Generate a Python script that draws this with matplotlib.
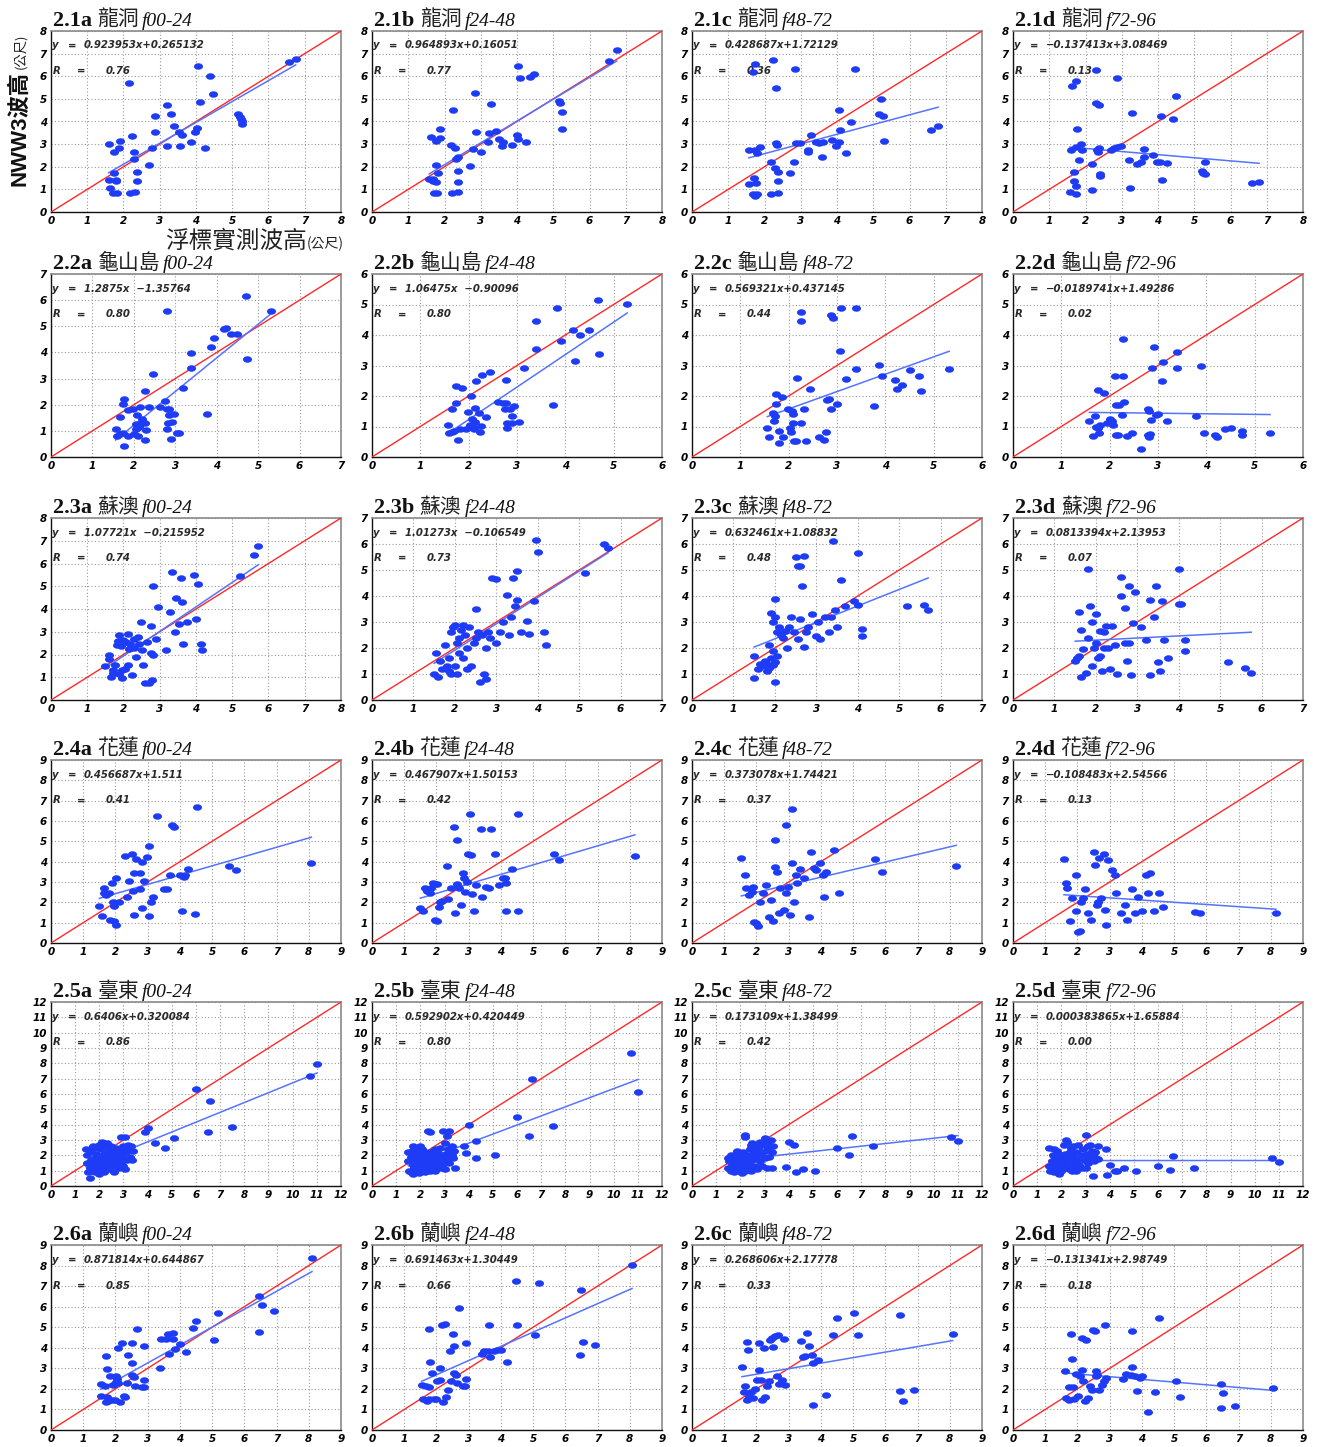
import numpy as np
import matplotlib
matplotlib.use("Agg")
import matplotlib.pyplot as plt
from matplotlib.path import Path

# ---------------- data ----------------
codes = ["a", "b", "c", "d"]
stations = ["龍洞", "龜山島", "蘇澳", "花蓮", "臺東", "蘭嶼"]
leads = ["f00-24", "f24-48", "f48-72", "f72-96"]
axis_max = [[8, 8, 8, 8], [7, 6, 6, 6], [8, 7, 7, 7], [9, 9, 9, 9], [12, 12, 12, 12], [9, 9, 9, 9]]

slopes = [["0.923953", "0.964893", "0.428687", "-0.137413"],
          ["1.2875", "1.06475", "0.569321", "-0.0189741"],
          ["1.07721", "1.01273", "0.632461", "0.0813394"],
          ["0.456687", "0.467907", "0.373078", "-0.108483"],
          ["0.6406", "0.592902", "0.173109", "0.000383865"],
          ["0.871814", "0.691463", "0.268606", "-0.131341"]]
intercepts = [["0.265132", "0.16051", "1.72129", "3.08469"],
              ["-1.35764", "-0.90096", "0.437145", "1.49286"],
              ["-0.215952", "-0.106549", "1.08832", "2.13953"],
              ["1.511", "1.50153", "1.74421", "2.54566"],
              ["0.320084", "0.420449", "1.38499", "1.65884"],
              ["0.644867", "1.30449", "2.17778", "2.98749"]]
r_values = [["0.76", "0.77", "0.36", "0.13"],
            ["0.80", "0.80", "0.44", "0.02"],
            ["0.74", "0.73", "0.48", "0.07"],
            ["0.41", "0.42", "0.37", "0.13"],
            ["0.86", "0.80", "0.42", "0.00"],
            ["0.85", "0.66", "0.33", "0.18"]]

p1a = [(1.6,3.0),(1.73,2.65),(2.15,5.72),(1.9,3.15),(1.87,2.83),(2.24,3.38),(2.3,2.67),(2.28,2.35),(2.37,1.76),
       (2.37,1.35),(2.17,0.84),(2.33,0.87),(1.73,1.72),(1.59,1.42),(1.78,1.35),(1.64,1.06),(1.71,0.84),(1.83,0.84),
       (1.78,1.42),(2.7,2.06),(2.79,2.82),(2.86,4.26),(2.86,3.55),(3.21,4.73),(3.3,4.32),(3.19,2.9),(3.39,3.78),
       (3.53,3.55),(3.62,3.4),(3.57,2.9),(3.87,3.11),(3.97,3.55),(4.03,3.7),(4.06,6.45),(4.1,4.85),(4.24,2.82),
       (4.39,6.02),(4.48,5.21),(5.16,4.33),(5.21,4.21),(5.24,4.11),(5.28,3.89),(5.26,4.0),(6.57,6.61),(6.75,6.75)]
p1b = [(1.62,3.33),(1.76,3.14),(1.88,3.65),(1.88,3.26),(1.76,2.07),(1.81,1.71),(1.58,1.46),(1.67,1.36),(1.76,1.34),
       (1.67,1.46),(1.7,0.83),(1.79,0.85),(2.19,2.95),(2.24,4.5),(2.29,2.85),(2.32,2.36),(2.36,2.44),(2.38,1.8),
       (2.38,1.34),(2.22,0.85),(2.36,0.88),(2.7,2.04),(2.79,2.77),(2.84,5.26),(2.88,3.53),(3.0,2.66),(3.22,3.5),
       (3.19,3.1),(3.27,4.77),(3.43,3.58),(3.51,3.21),(3.58,2.92),(3.61,3.1),(3.85,2.95),(3.99,3.39),(4.03,3.24),
       (4.03,6.45),(4.08,5.91),(4.25,3.1),(4.37,5.95),(4.46,6.1),(5.15,4.92),(5.18,4.82),(5.23,4.42),(5.25,3.65),
       (6.54,6.67),(6.75,7.18)]
p1c = [(1.58,2.73),(1.74,2.76),(1.71,1.49),(1.57,1.23),(1.76,1.27),(1.69,0.8),(1.78,0.8),(1.74,0.69),(1.67,6.17),
       (1.74,6.54),(1.8,2.59),(1.88,2.88),(2.17,2.19),(2.18,0.8),(2.24,6.71),(2.29,1.96),(2.31,5.47),(2.31,3.06),
       (2.34,2.95),(2.38,1.75),(2.36,1.37),(2.36,0.83),(2.71,1.71),(2.8,2.19),(2.85,6.32),(2.87,3.07),(2.98,3.07),
       (3.2,2.76),(3.21,2.66),(3.29,3.39),(3.42,3.1),(3.49,3.03),(3.6,3.1),(3.58,2.44),(3.86,3.17),(3.97,2.91),
       (4.05,3.1),(4.06,4.49),(4.09,3.64),(4.25,2.6),(4.39,3.98),(4.49,6.32),(5.2,5.0),(5.15,4.34),(5.27,4.23),
       (5.29,3.13),(6.59,3.61),(6.79,3.79)]
p1d = [(1.59,2.73),(1.73,2.88),(1.64,5.58),(1.75,5.8),(1.77,3.65),(1.88,3.0),(1.89,2.73),(1.82,2.3),(1.68,1.78),
       (1.68,1.35),(1.75,1.13),(1.57,0.88),(1.74,0.8),(2.28,6.29),(2.17,0.98),(2.19,2.12),(2.3,4.81),(2.37,4.74),
       (2.31,2.76),(2.35,2.66),(2.37,2.81),(2.4,1.67),(2.4,1.59),(2.69,2.73),(2.79,2.84),(2.86,5.92),(2.88,2.88),
       (2.99,2.92),(3.2,2.32),(3.22,1.08),(3.29,4.37),(3.43,2.12),(3.52,2.22),(3.61,2.78),(3.61,2.41),(3.87,2.51),
       (3.98,2.19),(4.05,2.19),(4.07,4.24),(4.1,1.42),(4.26,2.18),(4.4,4.09),(4.49,5.12),(5.2,1.83),(5.25,1.74),
       (5.29,1.67),(5.29,2.19),(6.58,1.27),(6.79,1.32)]

p2a = [(1.56,1.06),(1.6,0.79),(1.66,0.89),(1.66,1.53),(1.74,0.93),(1.74,2.01),(1.76,2.2),(1.77,0.42),(1.86,0.8),
       (1.86,1.78),(1.98,1.84),(2.0,0.89),(2.04,1.27),(2.06,1.08),(2.08,1.59),(2.1,0.8),(2.12,1.15),(2.15,1.93),
       (2.16,1.27),(2.19,1.46),(2.27,1.31),(2.28,2.54),(2.3,1.02),(2.26,0.64),(2.36,1.91),(2.46,3.16),(2.63,1.93),
       (2.76,2.16),(2.81,5.57),(2.81,1.82),(2.81,1.06),(2.82,1.3),(2.85,1.84),(2.86,1.59),(2.9,0.67),(2.93,1.34),
       (2.97,1.65),(3.05,0.9),(3.1,0.9),(3.19,2.63),(3.39,3.98),(3.39,3.41),(3.77,1.65),(3.87,4.2),(3.94,4.55),
       (4.18,4.89),(4.23,4.92),(4.34,4.72),(4.48,4.71),(4.7,6.17),(4.73,3.75),(5.31,5.6)]
p2b = [(1.57,1.04),(1.6,0.78),(1.66,0.82),(1.7,0.86),(1.66,1.56),(1.73,2.34),(1.74,1.76),(1.77,0.56),(1.83,0.91),
       (1.86,2.25),(1.94,0.91),(1.99,1.48),(2.03,1.05),(2.05,1.99),(2.06,1.24),(2.09,0.97),(2.12,0.91),(2.14,1.16),
       (2.14,1.6),(2.16,2.48),(2.22,1.43),(2.24,0.82),(2.26,1.02),(2.28,2.69),(2.35,1.3),(2.44,2.8),(2.61,1.79),
       (2.71,1.76),(2.76,1.57),(2.77,2.53),(2.77,1.76),(2.8,1.1),(2.8,0.95),(2.86,1.57),(2.89,1.33),(2.9,1.13),
       (2.93,1.68),(3.05,1.16),(3.15,2.92),(3.39,4.45),(3.39,3.53),(3.74,1.7),(3.83,4.89),(3.9,3.79),(4.15,4.15),
       (4.19,3.16),(4.31,3.99),(4.48,4.15),(4.67,5.14),(4.7,3.38),(5.28,5.03)]
p2c = [(1.56,0.95),(1.6,0.67),(1.67,1.44),(1.69,1.19),(1.72,1.33),(1.73,1.74),(1.73,2.07),(1.79,0.86),(1.79,0.47),
       (1.86,1.98),(1.89,0.64),(1.98,1.58),(2.02,0.95),(2.05,0.82),(2.06,1.52),(2.09,1.41),(2.09,1.13),(2.11,0.53),
       (2.15,0.51),(2.18,2.58),(2.26,1.1),(2.26,4.74),(2.26,4.45),(2.31,1.58),(2.35,0.51),(2.45,2.23),(2.63,0.67),
       (2.74,0.56),(2.78,0.82),(2.8,1.87),(2.84,1.9),(2.87,1.59),(2.87,4.65),(2.91,4.56),(3.0,1.74),(3.06,3.46),
       (3.09,4.9),(3.19,2.56),(3.39,4.9),(3.39,2.87),(3.76,1.66),(3.87,3.02),(3.94,2.67),(4.2,2.51),(4.24,2.23),
       (4.34,2.36),(4.5,2.86),(4.69,2.67),(4.73,2.18),(5.32,2.89)]
p2d = [(1.58,1.17),(1.65,0.7),(1.69,1.35),(1.71,1.0),(1.75,2.2),(1.75,0.95),(1.78,0.79),(1.81,1.06),(1.88,2.11),
       (1.94,1.11),(2.0,1.24),(2.04,1.17),(2.06,1.06),(2.1,2.64),(2.13,0.73),(2.13,1.71),(2.17,0.73),(2.19,1.71),
       (2.26,1.37),(2.27,3.86),(2.27,2.64),(2.3,1.79),(2.36,0.7),(2.47,0.79),(2.65,0.27),(2.79,1.57),(2.79,0.71),
       (2.82,0.65),(2.82,1.52),(2.84,0.75),(2.86,1.22),(2.88,2.91),(2.92,3.62),(2.95,1.37),(3.01,1.41),(3.08,2.5),
       (3.1,3.13),(3.18,1.17),(3.4,3.44),(3.4,2.93),(3.79,1.33),(3.88,3.0),(3.96,0.79),(4.18,0.73),(4.22,0.65),
       (4.38,0.92),(4.51,0.95),(4.73,0.86),(4.74,0.73),(5.32,0.79)]

p3a = [(1.48,1.5),(1.6,1.82),(1.6,1.96),(1.65,1.02),(1.72,1.31),(1.76,1.53),(1.81,2.43),(1.88,2.84),(1.88,1.16),
       (1.93,2.37),(1.95,0.95),(2.0,2.62),(2.05,1.38),(2.07,2.55),(2.12,1.53),(2.12,2.91),(2.16,2.26),(2.19,2.47),
       (2.24,1.09),(2.28,2.3),(2.35,1.89),(2.4,2.76),(2.42,2.47),(2.47,3.42),(2.52,2.18),(2.54,1.53),(2.59,0.76),
       (2.66,2.55),(2.71,0.73),(2.75,3.27),(2.75,2.07),(2.78,0.9),(2.82,5.02),(2.82,1.96),(2.89,2.69),(2.96,4.07),
       (3.18,2.18),(3.29,3.85),(3.34,5.62),(3.41,2.98),(3.46,4.48),(3.53,3.35),(3.58,5.35),(3.62,4.29),(3.65,2.47),
       (3.76,3.42),(3.95,5.48),(4.0,3.56),(4.05,5.09),(4.14,2.47),(4.16,2.18),(5.22,5.45),(5.6,6.36),(5.72,6.79),
       (1.7,1.2),(1.85,2.6),(2.3,2.7),(1.95,1.3)]
p3b = [(1.5,1.0),(1.55,1.8),(1.6,0.9),(1.65,1.5),(1.7,1.2),(1.75,2.1),(1.8,1.3),(1.85,1.1),(1.9,2.6),(1.9,1.0),
       (1.95,2.8),(2.0,2.9),(2.0,1.3),(2.05,2.2),(2.05,1.0),(2.1,2.4),(2.1,1.8),(2.15,2.7),(2.2,2.9),(2.2,1.6),
       (2.25,2.5),(2.3,2.0),(2.35,2.8),(2.4,1.3),(2.45,2.2),(2.5,3.5),(2.5,2.4),(2.55,2.6),(2.6,0.7),(2.65,2.5),
       (2.7,1.0),(2.75,0.8),(2.75,2.0),(2.8,2.6),(2.85,2.4),(2.9,4.7),(3.0,4.65),(3.0,2.2),(3.1,2.6),(3.15,3.0),
       (3.25,4.05),(3.3,2.5),(3.35,3.2),(3.4,4.7),(3.45,3.6),(3.5,4.95),(3.5,3.85),(3.6,2.6),(3.75,3.05),(3.8,2.55),
       (3.9,3.8),(3.95,6.15),(4.0,5.7),(4.15,2.6),(4.2,2.1),(5.15,4.9),(5.6,6.0),(5.7,5.85),(1.85,1.6),(2.3,1.2)]
p3c = [(1.5,1.7),(1.5,0.85),(1.6,1.2),(1.65,1.4),(1.7,1.3),(1.75,1.5),(1.8,1.1),(1.8,1.4),(1.85,1.25),(1.9,1.6),
       (1.95,1.35),(2.0,0.7),(2.0,1.45),(2.05,1.7),(1.85,2.1),(1.9,3.35),(1.95,3.0),(2.0,3.2),(2.0,3.9),(2.05,2.6),
       (2.1,2.8),(2.15,2.5),(2.2,2.4),(2.25,2.65),(2.3,2.0),(2.35,2.8),(2.4,3.2),(2.45,2.6),(2.5,5.5),(2.55,5.15),
       (2.6,5.15),(2.65,4.4),(2.7,5.55),(2.55,2.35),(2.6,3.1),(2.7,2.05),(2.75,2.6),(2.8,2.8),(2.9,3.3),(3.0,2.45),
       (3.05,3.0),(3.1,2.35),(3.2,3.2),(3.3,2.6),(3.35,3.2),(3.4,6.1),(3.45,3.45),(3.5,2.8),(3.6,4.6),(3.7,3.6),
       (3.9,3.8),(4.0,5.65),(4.0,3.65),(4.1,2.75),(4.1,2.45),(5.2,3.6),(5.6,3.65),(5.7,3.45),(1.95,1.9)]
p3d = [(1.5,1.5),(1.55,1.6),(1.6,3.4),(1.65,2.7),(1.65,0.9),(1.7,1.95),(1.75,1.05),(1.8,5.05),(1.8,2.4),(1.85,3.6),
       (1.9,3.0),(1.9,1.3),(1.95,2.0),(2.0,3.3),(2.0,2.2),(2.05,1.6),(2.1,2.65),(2.1,1.7),(2.15,1.1),(2.2,2.6),
       (2.2,2.0),(2.25,2.85),(2.3,2.0),(2.35,1.2),(2.4,2.85),(2.45,2.1),(2.5,1.0),(2.6,4.75),(2.6,4.0),(2.7,3.55),
       (2.7,2.2),(2.75,1.5),(2.8,4.4),(2.8,2.2),(2.85,0.95),(2.9,2.95),(2.95,4.15),(3.1,2.8),(3.2,2.3),(3.3,3.85),
       (3.3,0.95),(3.4,3.2),(3.45,4.4),(3.5,1.45),(3.55,1.1),(3.6,3.8),(3.65,2.3),(3.75,1.6),(4.0,5.05),(4.0,3.7),
       (4.05,3.7),(4.15,2.3),(4.15,1.9),(5.2,1.45),(5.6,1.25),(5.75,1.05),(1.6,1.7)]

p4a = [(1.5,1.82),(1.58,1.34),(1.63,2.44),(1.63,2.69),(1.71,2.36),(1.79,2.44),(1.84,1.14),(1.89,2.93),(1.92,2.04),
       (1.97,1.82),(1.97,1.06),(2.03,3.18),(2.03,0.9),(2.1,2.0),(2.29,4.26),(2.37,2.28),(2.42,3.06),(2.5,4.4),
       (2.55,2.56),(2.58,3.45),(2.58,1.38),(2.63,4.14),(2.76,3.45),(2.76,2.64),(2.82,3.97),(2.82,1.71),(2.89,3.05),
       (2.97,4.22),(3.03,4.77),(3.03,1.34),(3.1,2.04),(3.16,2.28),(3.29,6.27),(3.5,2.64),(3.6,2.64),(3.68,3.34),
       (3.76,5.81),(3.82,5.7),(4.0,3.35),(4.08,1.55),(4.13,3.26),(4.16,3.34),(4.26,3.66),(4.47,1.42),(4.53,6.68),
       (5.53,3.78),(5.74,3.58),(8.08,3.94)]
p4b = [(1.5,1.74),(1.58,1.55),(1.63,2.72),(1.71,2.57),(1.79,2.44),(1.84,2.69),(1.89,2.96),(1.95,2.88),(1.97,1.14),
       (2.03,1.06),(2.03,2.9),(2.08,1.79),(2.1,2.04),(2.16,2.07),(2.32,3.78),(2.37,2.15),(2.45,2.69),(2.53,5.7),
       (2.58,1.47),(2.63,5.05),(2.63,2.9),(2.71,2.69),(2.76,1.87),(2.82,3.45),(2.84,3.18),(2.89,2.52),(2.95,2.98),
       (2.97,4.36),(3.03,6.35),(3.08,4.32),(3.1,2.41),(3.16,1.55),(3.24,2.85),(3.37,5.63),(3.42,2.28),(3.55,2.77),
       (3.63,2.69),(3.68,5.63),(3.82,4.4),(3.95,2.85),(4.08,3.18),(4.13,3.18),(4.16,2.93),(4.16,1.55),(4.34,3.62),
       (4.53,6.35),(4.53,1.55),(5.66,4.4),(5.79,4.07),(8.16,4.28)]
p4c = [(1.53,4.19),(1.64,3.34),(1.67,2.69),(1.77,2.36),(1.85,2.52),(1.9,2.77),(1.93,1.03),(1.98,0.98),(2.04,0.86),
       (2.12,2.04),(2.2,2.44),(2.3,2.85),(2.38,1.3),(2.46,2.12),(2.51,1.06),(2.57,5.05),(2.59,3.75),(2.65,3.5),
       (2.7,1.47),(2.72,2.69),(2.86,1.63),(2.91,5.81),(2.91,2.44),(2.99,2.77),(3.04,1.38),(3.1,6.6),(3.1,3.91),
       (3.17,2.04),(3.23,3.34),(3.25,2.96),(3.36,3.66),(3.49,3.18),(3.62,1.3),(3.7,4.47),(3.78,3.71),(3.84,3.58),
       (3.97,3.91),(4.05,3.34),(4.1,2.28),(4.15,3.5),(4.42,4.56),(4.55,2.44),(5.69,4.15),(5.9,3.5),(8.2,3.78)]
p4d = [(1.58,4.15),(1.63,2.96),(1.68,2.69),(1.76,1.06),(1.84,2.2),(1.95,3.34),(1.97,1.55),(2.03,0.54),(2.08,0.57),
       (2.1,2.04),(2.16,2.2),(2.24,2.64),(2.34,1.47),(2.42,1.14),(2.5,4.47),(2.55,3.83),(2.6,1.87),(2.63,2.04),
       (2.68,4.2),(2.74,2.2),(2.82,4.4),(2.87,1.63),(2.89,0.9),(2.95,4.07),(3.08,3.58),(3.16,3.34),(3.21,2.44),
       (3.34,1.47),(3.47,1.87),(3.55,1.14),(3.68,2.64),(3.79,1.47),(3.87,2.28),(4.0,1.55),(4.13,3.34),(4.18,2.44),
       (4.26,3.42),(4.39,1.55),(4.53,2.44),(4.66,1.79),(5.66,1.52),(5.79,1.47),(8.16,1.47)]

p5a = [(1.45,2.4),(1.5,2.0),(1.5,1.5),(1.55,0.9),(1.6,0.5),(1.6,1.2),(1.65,1.7),(1.7,2.4),(1.7,1.0),(1.75,2.6),
       (1.75,1.4),(1.8,1.8),(1.8,0.9),(1.85,2.1),(1.85,1.3),(1.9,2.5),(1.9,1.6),(1.95,1.1),(2.0,1.9),(2.0,0.8),
       (2.05,2.4),(2.05,1.4),(2.1,2.9),(2.1,1.7),(2.15,1.2),(2.2,2.1),(2.2,1.5),(2.25,2.6),(2.25,1.8),(2.3,1.3),
       (2.35,2.0),(2.35,1.6),(2.4,2.3),(2.4,1.1),(2.45,1.9),(2.5,2.6),(2.5,1.5),(2.55,1.8),(2.6,2.2),(2.6,1.3),
       (2.65,1.7),(2.7,2.5),(2.7,1.9),(2.75,1.5),(2.8,2.1),(2.8,1.2),(2.85,1.8),(2.9,3.2),(2.9,2.3),(2.95,1.6),
       (3.0,2.6),(3.0,1.9),(3.05,3.2),(3.05,1.1),(3.1,2.2),(3.15,1.7),(3.2,2.7),(3.2,2.4),(3.25,1.9),(3.3,2.6),
       (3.35,1.7),(3.4,2.3),(2.0,2.7),(1.6,2.3),(2.3,2.8),(2.2,0.9),(2.6,0.9),(3.0,1.3),(1.9,1.9),(2.4,1.7),
       (3.9,3.5),(4.0,3.8),(4.3,2.8),(4.7,2.5),(5.1,3.1),(6.0,6.35),(6.5,3.5),(6.6,5.55),(7.5,3.85),(10.7,7.15),
       (11.0,7.95)]
p5b = [(1.5,2.2),(1.5,1.6),(1.55,1.0),(1.6,1.9),(1.6,0.9),(1.65,2.3),(1.7,1.4),(1.7,0.8),(1.75,2.0),(1.75,1.2),
       (1.8,2.5),(1.8,1.7),(1.85,1.0),(1.9,2.2),(1.9,1.5),(1.95,0.85),(2.0,1.8),(2.0,1.2),(2.05,2.4),(2.05,1.6),
       (2.1,2.0),(2.1,1.0),(2.15,1.4),(2.2,2.2),(2.2,1.7),(2.25,1.2),(2.3,3.6),(2.3,1.9),(2.35,1.5),(2.4,3.5),
       (2.4,2.2),(2.45,1.1),(2.5,1.8),(2.5,1.4),(2.55,2.0),(2.6,1.6),(2.6,2.4),(2.65,1.3),(2.7,1.9),(2.7,2.2),
       (2.75,1.5),(2.8,1.7),(2.8,2.5),(2.85,1.2),(2.9,2.0),(2.95,3.6),(2.95,1.6),(3.0,2.8),(3.0,1.1),(3.05,2.1),
       (3.1,3.25),(3.1,1.8),(3.15,2.4),(3.2,3.6),(3.2,1.5),(3.25,2.1),(3.3,2.6),(3.35,1.8),(3.4,2.3),(3.45,1.2),
       (2.0,2.6),(1.7,2.6),(2.4,1.0),(2.9,1.3),(3.3,2.0),(2.2,0.9),(1.9,1.9),(2.6,1.0),
       (3.8,2.6),(3.9,2.15),(4.0,4.0),(4.3,2.95),(4.3,1.8),(5.1,2.05),(6.0,4.5),(6.5,3.25),(6.6,7.0),(7.5,3.9),
       (10.7,8.65),(11.0,6.1)]
p5c = [(1.5,1.8),(1.5,1.2),(1.55,1.6),(1.6,1.0),(1.6,2.0),(1.65,1.4),(1.7,1.1),(1.7,1.8),(1.75,0.9),(1.75,1.5),
       (1.8,2.1),(1.8,1.2),(1.85,1.7),(1.9,1.0),(1.9,1.4),(1.95,2.0),(2.0,1.6),(2.0,1.1),(2.05,1.9),(2.05,0.85),
       (2.1,1.3),(2.1,2.2),(2.15,1.7),(2.2,3.3),(2.2,3.2),(2.2,1.0),(2.25,1.5),(2.3,2.0),(2.3,1.2),(2.35,1.8),
       (2.4,1.4),(2.4,2.4),(2.45,1.0),(2.5,2.8),(2.5,1.7),(2.55,2.2),(2.6,1.3),(2.6,2.6),(2.65,1.9),(2.7,1.1),
       (2.75,2.4),(2.8,1.6),(2.8,2.9),(2.85,2.1),(2.9,1.3),(2.95,2.7),(3.0,3.1),(3.0,1.8),(3.05,2.3),(3.1,1.15),
       (3.1,2.9),(3.15,2.5),(3.2,1.9),(3.2,2.7),(3.25,3.0),(3.3,2.2),(3.3,1.2),(3.35,2.6),(1.85,2.3),(2.45,2.7),
       (3.9,1.25),(4.0,2.85),(4.2,2.65),(4.3,0.9),(4.6,1.1),(5.1,0.95),(6.0,2.5),(6.5,2.05),(6.6,3.25),(7.5,2.6),
       (10.7,3.2),(11.0,2.95)]
p5d = [(1.5,2.5),(1.5,1.3),(1.55,0.95),(1.6,1.6),(1.6,1.1),(1.65,2.0),(1.7,1.4),(1.7,0.9),(1.75,1.8),(1.75,1.2),
       (1.8,2.3),(1.8,1.0),(1.85,1.5),(1.9,0.8),(1.9,1.9),(1.95,1.3),(2.0,2.0),(2.0,1.0),(2.05,1.6),(2.1,2.7),
       (2.1,1.2),(2.15,2.1),(2.2,3.0),(2.2,1.4),(2.25,2.9),(2.25,1.8),(2.3,1.1),(2.35,2.2),(2.4,1.5),(2.4,2.5),
       (2.45,1.0),(2.5,1.9),(2.5,2.6),(2.55,1.3),(2.6,2.2),(2.6,1.0),(2.65,1.7),(2.7,2.7),(2.75,1.4),(2.8,2.0),
       (2.85,1.2),(2.9,2.4),(2.95,1.7),(3.0,3.3),(3.0,1.2),(3.05,2.1),(3.1,2.6),(3.1,1.5),(3.15,1.9),(3.2,2.7),
       (3.25,2.3),(3.3,0.65),(3.3,2.0),(3.35,1.6),(3.4,2.2),(3.45,1.8),(3.5,2.6),(3.5,1.75),(1.7,2.4),(2.3,1.9),
       (3.85,2.4),(3.9,0.75),(4.0,1.35),(4.2,0.95),(4.3,1.0),(4.6,1.2),(5.1,0.95),(6.0,1.3),(6.5,1.05),(6.6,1.95),
       (7.5,1.2),(10.7,1.8),(11.0,1.55)]

p6a = [(1.54,2.24),(1.56,1.65),(1.68,2.14),(1.7,1.38),(1.72,3.61),(1.73,2.97),(1.75,1.62),(1.78,1.41),(1.82,2.63),
       (1.9,1.46),(1.93,2.19),(1.98,1.46),(2.01,2.35),(2.03,2.63),(2.06,2.48),(2.08,4.0),(2.09,2.3),(2.14,1.35),
       (2.21,4.25),(2.26,1.67),(2.31,1.62),(2.36,2.3),(2.4,3.65),(2.5,4.21),(2.52,3.27),(2.5,2.67),(2.57,2.59),
       (2.6,2.14),(2.67,4.89),(2.81,2.11),(2.88,2.11),(2.9,4.1),(2.9,2.43),(3.39,3.03),(3.42,4.41),(3.58,4.41),
       (3.62,4.65),(3.65,3.7),(3.78,4.73),(3.78,4.41),(3.84,3.92),(4.0,4.18),(4.19,3.81),(4.42,4.94),(4.5,5.32),
       (5.07,4.38),(5.17,5.71),(6.47,6.52),(6.47,4.78),(6.55,6.07),(6.92,5.8),(8.1,8.38)]
p6b = [(1.54,2.18),(1.68,2.13),(1.77,2.1),(1.58,1.53),(1.71,1.41),(1.77,1.49),(1.91,1.52),(2.0,1.52),(1.77,4.91),
       (1.81,3.31),(1.87,2.75),(2.02,2.38),(2.1,3.0),(2.12,2.42),(2.16,5.12),(2.2,1.37),(2.25,5.15),(2.29,1.62),
       (2.35,1.97),(2.41,3.83),(2.45,2.38),(2.5,4.66),(2.54,4.1),(2.54,2.78),(2.6,2.67),(2.64,2.29),(2.7,5.93),
       (2.83,2.13),(2.89,2.13),(2.93,2.46),(2.93,4.23),(3.41,3.7),(3.47,3.86),(3.6,3.86),(3.64,5.12),(3.66,3.54),
       (3.8,3.83),(3.89,3.91),(3.99,3.91),(4.18,3.3),(4.47,7.27),(4.51,5.12),(5.05,4.64),(5.18,7.17),(6.45,3.67),
       (6.49,6.79),(6.55,4.28),(6.92,4.12),(8.07,8.03)]
p6c = [(1.55,3.05),(1.61,1.84),(1.64,2.13),(1.7,1.45),(1.7,4.26),(1.74,3.91),(1.78,1.6),(1.84,1.86),(1.9,1.57),
       (1.97,2.0),(2.03,2.42),(2.08,2.94),(2.09,4.23),(2.13,2.42),(2.17,1.45),(2.22,3.99),(2.26,1.62),(2.32,2.13),
       (2.38,2.4),(2.42,4.39),(2.48,4.5),(2.51,4.04),(2.57,4.58),(2.65,2.62),(2.67,4.63),(2.71,2.26),(2.8,2.42),
       (2.86,4.44),(2.9,2.21),(3.38,4.31),(3.44,3.54),(3.52,3.59),(3.58,4.71),(3.64,4.07),(3.71,3.63),(3.77,3.26),
       (3.77,1.24),(3.91,3.39),(4.16,1.7),(4.39,4.63),(4.49,5.47),(5.03,5.68),(5.14,4.63),(6.44,5.6),(6.44,1.92),
       (6.54,1.4),(6.9,1.97),(8.09,4.68)]
p6d = [(1.6,2.86),(1.64,1.57),(1.74,2.08),(1.75,1.45),(1.79,4.67),(1.83,3.46),(1.85,2.08),(1.89,1.52),(1.95,2.73),
       (2.03,1.65),(2.09,2.62),(2.13,2.94),(2.14,4.48),(2.18,2.38),(2.22,1.41),(2.28,4.39),(2.32,1.54),(2.38,2.13),
       (2.44,1.97),(2.48,4.85),(2.53,4.8),(2.57,2.86),(2.57,2.62),(2.61,2.7),(2.67,1.94),(2.77,2.18),(2.83,2.38),
       (2.87,5.12),(2.9,2.51),(3.41,2.46),(3.51,2.73),(3.65,2.7),(3.69,4.83),(3.7,3.05),(3.78,2.62),(3.84,1.92),
       (3.94,2.54),(4.0,2.62),(4.19,0.89),(4.42,1.86),(4.52,5.44),(5.07,2.38),(5.17,1.62),(6.47,2.26),(6.51,1.81),
       (6.47,1.08),(6.9,1.16),(8.07,2.02)]

points = [[p1a, p1b, p1c, p1d], [p2a, p2b, p2c, p2d], [p3a, p3b, p3c, p3d],
          [p4a, p4b, p4c, p4d], [p5a, p5b, p5c, p5d], [p6a, p6b, p6c, p6d]]

# ---------------- layout ----------------
W, H = 1326, 1447
fig = plt.figure(figsize=(W / 100, H / 100), dpi=100)
fig.patch.set_facecolor("white")
renderer = fig.canvas.get_renderer()

col_left = [51, 372, 692, 1013]
ax_w = 290
row_top = [31, 274, 518, 760, 1002, 1245]
row_bot = [212, 457, 700, 943, 1186, 1430]

theta = np.linspace(0, 2 * np.pi, 41)
ell = Path(np.column_stack([np.cos(theta), 0.72 * np.sin(theta)]))

dot_color = "#1e3cf5"
fit_color = "#5573ff"
diag_color = "#ff2828"
tick_font = dict(family="DejaVu Sans", style="oblique", weight="bold", size=7.5)
eq_font = dict(family="DejaVu Sans", style="oblique", weight="bold", size=7.3, color="#2a2a2a")

def seq_text(x_px, y_px, parts):
    x = x_px
    for s, kw in parts:
        t = fig.text(x / W, 1 - y_px / H, s, ha="left", va="baseline", **kw)
        x += t.get_window_extent(renderer).width

for r in range(6):
    for c in range(4):
        left = col_left[c]
        top = row_top[r]
        bot = row_bot[r]
        ax = fig.add_axes([left / W, 1 - bot / H, ax_w / W, (bot - top) / H])
        m = axis_max[r][c]
        pts = np.array(points[r][c])
        x, y = pts[:, 0], pts[:, 1]
        ax.set_xlim(0, m)
        ax.set_ylim(0, m)
        ax.set_xticks(range(0, m + 1))
        ax.set_yticks(range(0, m + 1))
        ax.grid(True, color="#9a9a9a", linestyle=(0, (1, 2)), linewidth=0.8)
        ax.set_axisbelow(True)
        ax.tick_params(length=0, pad=3)
        for lab in ax.get_xticklabels() + ax.get_yticklabels():
            lab.set_fontfamily(tick_font["family"])
            lab.set_fontstyle(tick_font["style"])
            lab.set_fontweight(tick_font["weight"])
            lab.set_fontsize(tick_font["size"])
        for side in ["left", "bottom"]:
            ax.spines[side].set_color("#111111")
            ax.spines[side].set_linewidth(1.0)
        for side in ["top", "right"]:
            ax.spines[side].set_color("#8a8a8a")
            ax.spines[side].set_linewidth(1.2)

        # 1:1 line
        ax.plot([0, m], [0, m], color=diag_color, lw=1.0, zorder=3)
        # regression line
        a = float(slopes[r][c])
        b = float(intercepts[r][c])
        xs = np.array([x.min(), x.max()])
        ax.plot(xs, a * xs + b, color=fit_color, lw=1.1, zorder=3)
        # scatter
        ax.plot(x, y, linestyle="none", marker=ell, markersize=6.5,
                color=dot_color, markeredgewidth=0, zorder=4)

        # equation and R text
        bs = intercepts[r][c]
        if bs.startswith("-"):
            eq = slopes[r][c].replace("-", "\u2212") + "x  \u2212" + bs[1:]
        else:
            eq = slopes[r][c].replace("-", "\u2212") + "x+" + bs
        ax.text(0.005, 0.92, "y", transform=ax.transAxes, va="center", ha="left", **eq_font)
        ax.text(0.058, 0.92, "=", transform=ax.transAxes, va="center", ha="left", **eq_font)
        ax.text(0.113, 0.92, eq, transform=ax.transAxes, va="center", ha="left", **eq_font)
        ax.text(0.005, 0.78, "R", transform=ax.transAxes, va="center", ha="left", **eq_font)
        ax.text(0.09, 0.78, "=", transform=ax.transAxes, va="center", ha="left", **eq_font)
        ax.text(0.19, 0.78, r_values[r][c], transform=ax.transAxes, va="center", ha="left", **eq_font)

        # title
        seq_text(left + 2, top - 5, [
            ("2.%d%s " % (r + 1, codes[c]), dict(family="Liberation Serif", weight="bold", size=16, color="#111111")),
            (stations[r], dict(family=["Noto Sans CJK TC", "DejaVu Sans"], size=15, color="#222222")),
            (" ", dict(family="Liberation Serif", size=8)),
            (leads[c], dict(family="Liberation Serif", style="italic", size=14, color="#111111")),
        ])

# axis labels on the first panel
t1 = fig.text(20 / W, 1 - 186 / H, "NWW3波高", rotation=90, ha="center", va="bottom",
              family=["Liberation Sans", "Noto Sans CJK TC"], weight="bold", size=16, color="#111111")
bb = t1.get_window_extent(renderer)
fig.text(21 / W, (bb.y1 + 2) / H, "(公尺)", rotation=90, ha="center", va="bottom",
         family=["Noto Sans CJK TC", "DejaVu Sans"], size=9.5, color="#222222")
seq_text(165, 248, [
    ("浮標實測波高", dict(family=["Noto Sans CJK TC", "DejaVu Sans"], size=17, color="#222222")),
    ("(公尺)", dict(family=["Noto Sans CJK TC", "DejaVu Sans"], size=10, color="#222222")),
])

fig.savefig("out.png", dpi=100, facecolor="white")
